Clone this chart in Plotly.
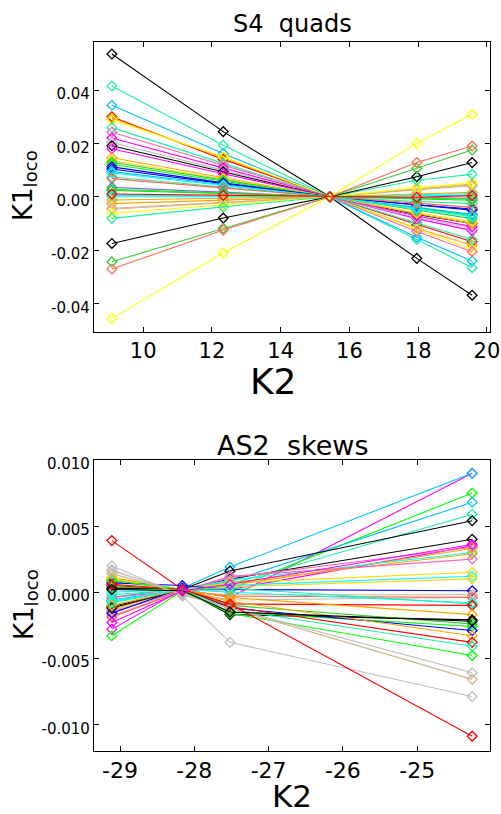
import plotly.graph_objects as go

# ---------------- data: top panel (S4 quads) ----------------
k2_top = [9.09, 12.33, 15.43, 17.96, 19.57]

top_colors = [
    "#000000", "#1EF0A0", "#00BFFF", "#FF0000", "#FFA500", "#FFFF00", "#1EF0A0", "#FF69B4",
    "#FF00FF", "#BEBEBE", "#000000", "#FF00FF", "#FFA500", "#FFD700", "#32CD32", "#00FF00",
    "#0000FF", "#0000FF", "#00BFFF", "#00FFFF", "#1EF0A0", "#FF6A50", "#7B68EE", "#00FF00",
    "#32CD32", "#00FFFF", "#00FFFF", "#FFA500", "#FFA500", "#D2B48C", "#D2B48C", "#FFFF00",
    "#1EF0A0", "#000000", "#32CD32", "#FF6A50", "#FFFF00", "#FF0000",
]

top_values = [
    [0.0535, 0.0244, 0.0000, -0.0231, -0.0369],
    [0.0415, 0.0193, 0.0000, -0.0160, -0.0266],
    [0.0343, 0.0162, 0.0000, -0.0152, -0.0241],
    [0.0300, 0.0140, 0.0000, -0.0105, -0.0169],
    [0.0294, 0.0146, 0.0000, -0.0118, -0.0182],
    [0.0288, 0.0150, 0.0000, -0.0122, -0.0198],
    [0.0259, 0.0125, 0.0000, -0.0097, -0.0160],
    [0.0242, 0.0118, 0.0000, -0.0130, -0.0206],
    [0.0220, 0.0108, 0.0000, -0.0082, -0.0127],
    [0.0203, 0.0098, 0.0000, -0.0078, -0.0118],
    [0.0191, 0.0094, 0.0000, -0.0066, -0.0100],
    [0.0180, 0.0086, 0.0000, -0.0072, -0.0112],
    [0.0146, 0.0070, 0.0000, -0.0064, -0.0100],
    [0.0136, 0.0066, 0.0000, -0.0060, -0.0094],
    [0.0129, 0.0062, 0.0000, -0.0050, -0.0082],
    [0.0122, 0.0058, 0.0000, -0.0044, -0.0070],
    [0.0112, 0.0052, 0.0000, -0.0032, -0.0050],
    [0.0104, 0.0049, 0.0000, -0.0030, -0.0046],
    [0.0094, 0.0045, 0.0000, -0.0040, -0.0066],
    [0.0089, 0.0042, 0.0000, -0.0046, -0.0075],
    [0.0074, 0.0035, 0.0000, -0.0018, -0.0026],
    [0.0068, 0.0032, 0.0000, -0.0024, -0.0040],
    [0.0035, 0.0017, 0.0000, -0.0003, -0.0006],
    [0.0028, 0.0013, 0.0000, -0.0005, -0.0009],
    [0.0024, 0.0011, 0.0000, -0.0008, -0.0013],
    [0.0005, 0.0003, 0.0000, 0.0004, 0.0006],
    [0.0000, 0.0000, 0.0000, 0.0008, 0.0012],
    [-0.0012, -0.0006, 0.0000, 0.0010, 0.0017],
    [-0.0026, -0.0012, 0.0000, 0.0028, 0.0048],
    [-0.0043, -0.0021, 0.0000, 0.0026, 0.0040],
    [-0.0047, -0.0023, 0.0000, 0.0030, 0.0045],
    [-0.0062, -0.0030, 0.0000, 0.0034, 0.0052],
    [-0.0081, -0.0038, 0.0000, 0.0062, 0.0084],
    [-0.0175, -0.0080, 0.0000, 0.0075, 0.0128],
    [-0.0244, -0.0118, 0.0000, 0.0107, 0.0175],
    [-0.0271, -0.0125, 0.0000, 0.0128, 0.0190],
    [-0.0456, -0.0210, 0.0000, 0.0200, 0.0309],
    [0.0010, 0.0005, 0.0000, -0.0002, 0.0004],
]

# ---------------- data: bottom panel (AS2 skews) ----------------
k2_bot = [-29.11, -28.16, -27.52, -24.26]

bot_colors = [
    "#FF00FF", "#00BFFF", "#00FF00", "#00BFFF", "#1EF0A0", "#000000", "#000000", "#FF00FF",
    "#FF69B4", "#FFA500", "#00FFFF", "#FFA500", "#FF69B4", "#FFD700", "#00FFFF", "#FFD700",
    "#0000FF", "#D2B48C", "#BEBEBE", "#FF6A50", "#00FFFF", "#1EF0A0", "#FF0000", "#FFA500",
    "#000000", "#32CD32", "#00FF00", "#0000FF", "#FFA500", "#FF0000", "#1EF0A0", "#00FF00",
    "#BEBEBE", "#D2B48C", "#BEBEBE", "#FF0000", "#000000", "#FF00FF",
]

bot_values = [
    [-0.0028, 0.0002, -0.0004, 0.0090],
    [-0.0004, 0.0003, 0.0019, 0.0090],
    [0.0004, 0.0002, 0.0002, 0.0075],
    [-0.0006, 0.0002, 0.0008, 0.0068],
    [0.0008, 0.0002, 0.0006, 0.0059],
    [0.0003, 0.0002, 0.0016, 0.0054],
    [-0.0011, 0.0002, 0.0010, 0.0040],
    [-0.0015, 0.0001, 0.0002, 0.0035],
    [-0.0018, 0.0001, 0.0011, 0.0034],
    [-0.0013, 0.0002, 0.0005, 0.0033],
    [-0.0007, 0.0002, 0.0009, 0.0030],
    [0.0011, 0.0002, 0.0007, 0.0029],
    [-0.0004, 0.0001, 0.0012, 0.0025],
    [0.0010, 0.0002, 0.0007, 0.0015],
    [0.0000, 0.0002, 0.0005, 0.0012],
    [-0.0012, 0.0002, 0.0004, 0.0010],
    [0.0007, 0.0005, 0.0002, 0.0001],
    [-0.0014, 0.0000, -0.0002, -0.0002],
    [0.0016, 0.0000, -0.0006, -0.0004],
    [-0.0019, 0.0001, -0.0003, -0.0004],
    [-0.0007, 0.0002, 0.0000, -0.0008],
    [-0.0002, 0.0002, 0.0003, -0.0009],
    [0.0006, 0.0002, -0.0009, -0.0010],
    [0.0009, 0.0002, -0.0004, -0.0017],
    [-0.0012, 0.0002, -0.0017, -0.0021],
    [0.0002, 0.0002, -0.0010, -0.0024],
    [0.0009, 0.0002, -0.0015, -0.0026],
    [-0.0016, 0.0003, -0.0012, -0.0029],
    [-0.0010, 0.0002, -0.0007, -0.0033],
    [0.0005, 0.0002, -0.0011, -0.0038],
    [-0.0008, 0.0002, -0.0013, -0.0041],
    [-0.0033, 0.0001, -0.0016, -0.0048],
    [0.0017, -0.0002, -0.0012, -0.0061],
    [0.0014, -0.0001, -0.0012, -0.0066],
    [0.0020, -0.0003, -0.0038, -0.0079],
    [0.0039, 0.0002, -0.0009, -0.0109],
    [0.0002, 0.0001, -0.0015, -0.0022],
    [-0.0023, 0.0001, 0.0006, 0.0036],
]

# ---------------- tick labels ----------------
top_xticks = [10, 12, 14, 16, 18, 20]
top_yticks = [-0.04, -0.02, 0.0, 0.02, 0.04]
top_yticktext = ["-0.04", "-0.02", "0.00", "0.02", "0.04"]
bot_xticks = [-29, -28, -27, -26, -25]
bot_xticktext = ["-29", "-28", "-27", "-26", "-25"]
bot_yticks = [-0.010, -0.005, 0.0, 0.005, 0.010]
bot_yticktext = ["-0.010", "-0.005", "0.000", "0.005", "0.010"]

FONT = "DejaVu Sans"
W, H = 501, 814


def px(x):
    return x / W


def py(y):
    return 1 - y / H


fig = go.Figure()

for col, vals in zip(top_colors, top_values):
    fig.add_trace(go.Scatter(
        x=k2_top, y=vals, mode="lines+markers", xaxis="x", yaxis="y",
        line=dict(color=col, width=1.1),
        marker=dict(symbol="diamond-open", size=7.5, color=col, line=dict(width=1.3, color=col)),
        showlegend=False, hoverinfo="skip"))

for col, vals in zip(bot_colors, bot_values):
    fig.add_trace(go.Scatter(
        x=k2_bot, y=vals, mode="lines+markers", xaxis="x2", yaxis="y2",
        line=dict(color=col, width=1.1),
        marker=dict(symbol="diamond-open", size=7.5, color=col, line=dict(width=1.3, color=col)),
        showlegend=False, hoverinfo="skip"))

axis_common = dict(
    showline=True, linecolor="black", linewidth=1.3, mirror="ticks",
    ticks="inside", ticklen=5, tickwidth=1.2, tickcolor="black",
    showgrid=False, zeroline=False, automargin=False,
)

xdom = [px(94), px(490)]

fig.update_layout(
    width=W, height=H,
    margin=dict(l=0, r=0, t=0, b=0),
    paper_bgcolor="white", plot_bgcolor="white",
    font=dict(family=FONT, color="black"),
    xaxis=dict(domain=xdom, anchor="y", range=[8.57, 20.09],
               tickvals=top_xticks, tickfont=dict(size=21), **axis_common),
    yaxis=dict(domain=[py(332), py(42)], anchor="x", range=[-0.0507, 0.058],
               tickvals=top_yticks, ticktext=top_yticktext, tickfont=dict(size=15),
               ticklabelshift=4, **axis_common),
    xaxis2=dict(domain=xdom, anchor="y2", range=[-29.35, -24.02],
                tickvals=bot_xticks, ticktext=bot_xticktext, tickfont=dict(size=22), **axis_common),
    yaxis2=dict(domain=[py(750.7), py(460)], anchor="x2", range=[-0.0120, 0.0100],
                tickvals=bot_yticks, ticktext=bot_yticktext, tickfont=dict(size=15),
                ticklabelshift=4, **axis_common),
    annotations=[
        dict(text="S4  quads", x=px(292), y=py(24), xref="paper", yref="paper",
             showarrow=False, xanchor="center", yanchor="middle", font=dict(size=24)),
        dict(text="AS2  skews", x=px(292), y=py(445), xref="paper", yref="paper",
             showarrow=False, xanchor="center", yanchor="middle", font=dict(size=27)),
        dict(text="K2", x=px(273), y=py(381), xref="paper", yref="paper",
             showarrow=False, xanchor="center", yanchor="middle", font=dict(size=36)),
        dict(text="K2", x=px(292), y=py(796), xref="paper", yref="paper",
             showarrow=False, xanchor="center", yanchor="middle", font=dict(size=31)),
        dict(text="K1<sub>loco</sub>", x=px(25), y=py(186), xref="paper", yref="paper",
             showarrow=False, xanchor="center", yanchor="middle", textangle=-90, font=dict(size=26)),
        dict(text="K1<sub>loco</sub>", x=px(25), y=py(605), xref="paper", yref="paper",
             showarrow=False, xanchor="center", yanchor="middle", textangle=-90, font=dict(size=26)),
    ],
)

fig.write_html(
    "out.html",
    config={"displayModeBar": False},
    post_script="document.body.style.margin='0';document.body.style.overflow='hidden';",
)
